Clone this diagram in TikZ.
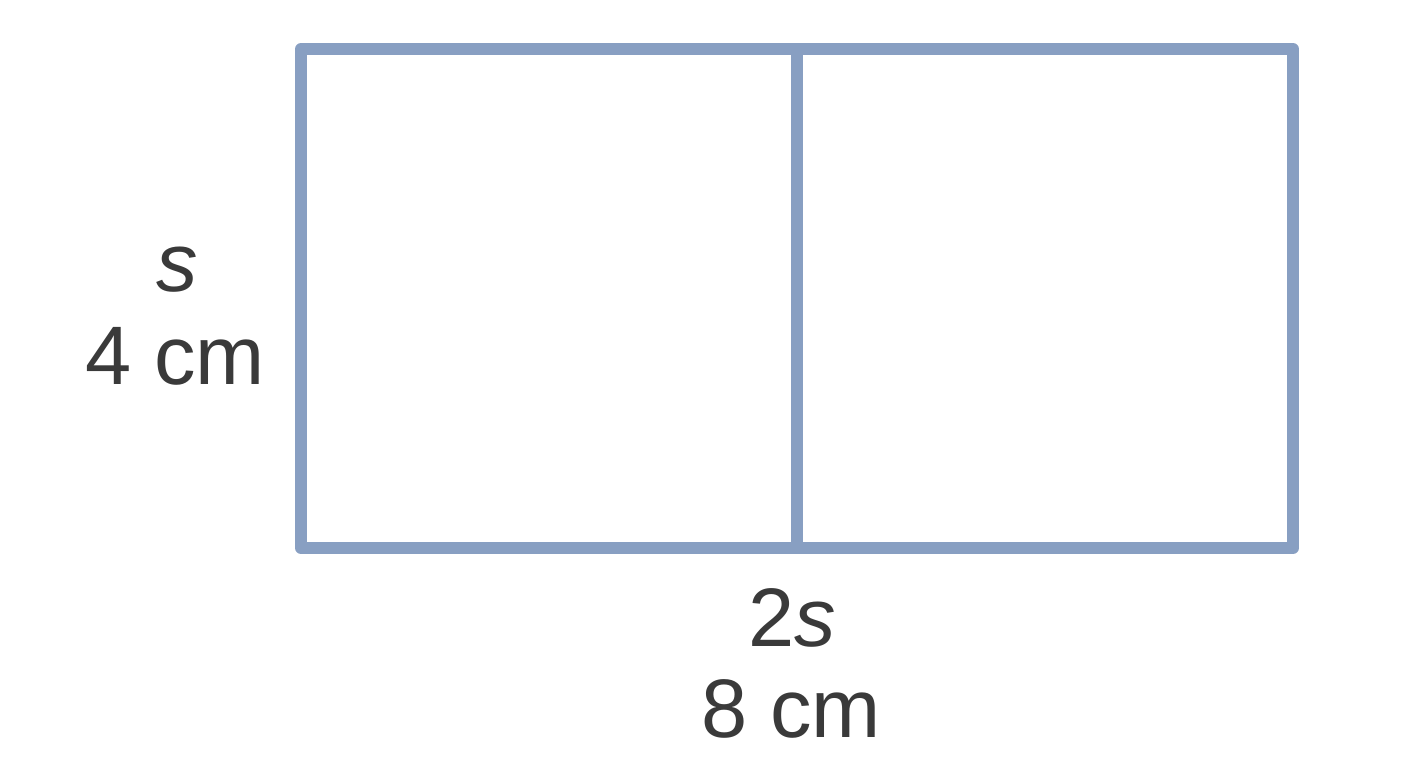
\documentclass[tikz,border=0pt]{standalone}
\usepackage{fontspec}
\setmainfont{Liberation Sans}
\definecolor{rectblue}{HTML}{889FC2}
\definecolor{labelgray}{HTML}{3A3A3A}
\tikzset{
  edge/.style={draw=rectblue, line width=3.4pt, line join=round, line cap=round},
  lbl/.style={text=labelgray, font=\fontsize{23.6}{25}\selectfont, anchor=base, inner sep=0pt}
}
\begin{document}
\begin{tikzpicture}[x=0.01cm, y=-0.01cm]
  \useasboundingbox (0,0) rectangle (1408,768);
  % Rectangulo dividido en dos cuadrados
  \draw[edge] (301,49) rectangle (1293,548);
  \draw[edge] (797,49) -- (797,548);

  % Lado corto
  \node[lbl] (sideVar) at (177,292) {\textit{s}};
  \node[lbl] (sideLen) at (175,385) {4 cm};

  % Lado largo
  \node[lbl] (baseVar) at (792,647) {2\textit{s}};
  \node[lbl] (baseLen) at (791,738) {8 cm};
\end{tikzpicture}
\end{document}
